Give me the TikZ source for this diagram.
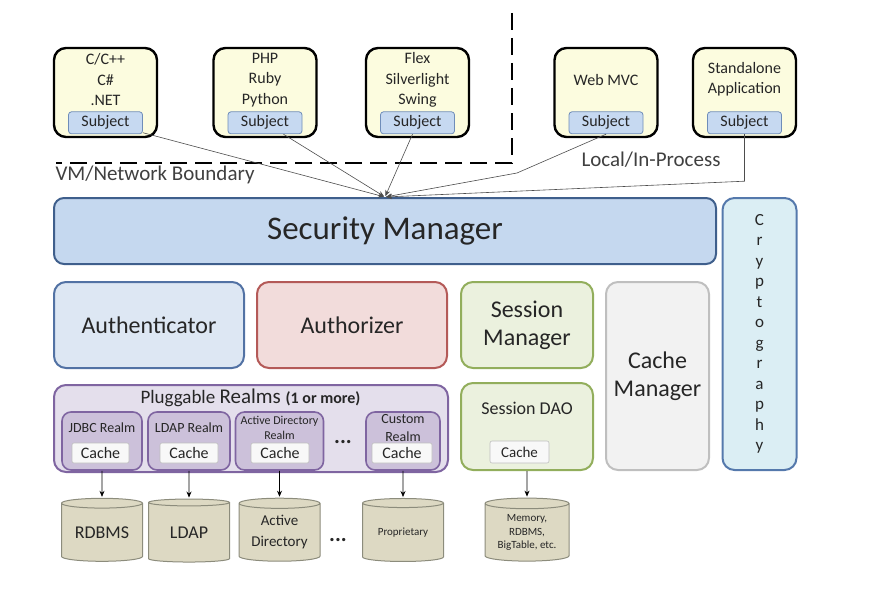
\documentclass[tikz,border=0pt]{standalone}
\usepackage{fontspec}
\setmainfont{Carlito}
\usetikzlibrary{arrows.meta,shapes,positioning}

\definecolor{ink}{HTML}{262626}
\definecolor{clientfill}{HTML}{FCFCDF}
\definecolor{subjfill}{HTML}{C6D9F1}
\definecolor{subjline}{HTML}{6F8DB9}
\definecolor{smfill}{HTML}{C5D8EF}
\definecolor{smline}{HTML}{3F5F8C}
\definecolor{authnfill}{HTML}{DDE7F3}
\definecolor{authnline}{HTML}{5272A4}
\definecolor{authzfill}{HTML}{F2DCDB}
\definecolor{authzline}{HTML}{B45A58}
\definecolor{sessfill}{HTML}{EBF1DE}
\definecolor{sessline}{HTML}{92AE5C}
\definecolor{cmfill}{HTML}{F2F2F2}
\definecolor{cmline}{HTML}{BFBFBF}
\definecolor{cryfill}{HTML}{DBEEF4}
\definecolor{cryline}{HTML}{5579AC}
\definecolor{plugfill}{HTML}{E4DFEC}
\definecolor{plugline}{HTML}{7F65A1}
\definecolor{realmfill}{HTML}{CCC1DA}
\definecolor{cachefill}{HTML}{F8F8F8}
\definecolor{cacheline}{HTML}{BFBFBF}
\definecolor{dbfill}{HTML}{DDD9C3}
\definecolor{dbline}{HTML}{8C8C7C}
\definecolor{linkcol}{HTML}{4D4D4D}

\begin{document}
\begin{tikzpicture}[x=1pt,y=-1pt,->,>={Stealth[length=6pt,width=5pt]},shorten >=1pt,
                    every node/.style={text=ink},
                    client/.style={draw=black,line width=2.4pt,fill=clientfill,rounded corners=12pt,
                                   minimum width=103pt,minimum height=89pt},
                    ctext/.style={align=center,font=\fontsize{16}{20.5}\selectfont},
                    subj/.style={draw=subjline,line width=0.8pt,fill=subjfill,rounded corners=3pt,
                                 minimum width=74pt,minimum height=22pt,inner sep=0pt,
                                 font=\fontsize{16}{18}\selectfont},
                    block/.style={rounded corners=12pt,line width=2pt,align=center,inner sep=0pt,
                                  font=\fontsize{24}{28}\selectfont},
                    realm/.style={draw=plugline,line width=1.6pt,fill=realmfill,rounded corners=9pt,
                                  minimum height=58pt},
                    cachebox/.style={draw=cacheline,line width=0.6pt,fill=cachefill,rounded corners=2pt,
                                     minimum height=20pt,inner sep=0pt,font=\fontsize{16}{18}\selectfont},
                    db/.style={cylinder,shape border rotate=90,aspect=0.18,draw=dbline,line width=1pt,
                               fill=dbfill,minimum width=81pt,minimum height=63pt,align=center,inner sep=0pt},
                    conn/.style={draw=linkcol,line width=0.6pt}]

  \useasboundingbox (0,0) rectangle (882,591);

  % clients
  \node [client] (cpp) at (105.5,92.5) {};
  \node [client] (php) at (265,92.5) {};
  \node [client] (flex) at (417.5,92.5) {};
  \node [client] (mvc) at (606,92.5) {};
  \node [client] (app) at (744.5,92.5) {};

  \node [ctext] (cppT) at (105.5,80) {C/C++\\C\#\\.NET};
  \node [ctext] (phpT) at (265,80) {PHP\\Ruby\\Python};
  \node [ctext] (flexT) at (417.5,80) {Flex\\Silverlight\\Swing};
  \node [ctext] (mvcT) at (606,80) {Web MVC};
  \node [ctext] (appT) at (744.5,79) {Standalone\\Application};

  \node [subj, above=4pt of cpp.south] (cppS) {Subject};
  \node [subj, above=4pt of php.south] (phpS) {Subject};
  \node [subj, above=4pt of flex.south] (flexS) {Subject};
  \node [subj, above=4pt of mvc.south] (mvcS) {Subject};
  \node [subj, above=4pt of app.south] (appS) {Subject};

  \draw [-,line width=2pt,dash pattern=on 17pt off 8pt] (512,13) -- (512,163) -- (55,163);
  \node [anchor=west,text=black!75,font=\fontsize{21}{24}\selectfont] (vmT) at (52,175) {VM/Network Boundary};
  \node [text=black!75,font=\fontsize{21}{24}\selectfont] (localT) at (651,160) {Local/In-Process};

  % core
  \node [block,draw=smline,fill=smfill,rounded corners=10pt,minimum width=662pt,minimum height=66pt,
         font=\fontsize{33}{36}\selectfont] (sm) at (385,231) {Security Manager};
  \node [block,draw=cryline,fill=cryfill,minimum width=74pt,minimum height=272pt,
         font=\fontsize{17}{20.5}\selectfont] (crypto) at (759.5,334) {C\\r\\y\\p\\t\\o\\g\\r\\a\\p\\h\\y};

  \node [block,draw=authnline,fill=authnfill,minimum width=190pt,minimum height=86pt] (authn) at (149,325) {Authenticator};
  \node [block,draw=authzline,fill=authzfill,minimum width=190pt,minimum height=86pt] (authz) at (352,325) {Authorizer};
  \node [block,draw=sessline,fill=sessfill,minimum width=132pt,minimum height=86pt] (sessmgr) at (527,325) {Session\\Manager};
  \node [block,draw=cmline,fill=cmfill,minimum width=103pt,minimum height=188pt] (cachemgr) at (657.5,376) {Cache\\Manager};

  \node [block,draw=sessline,fill=sessfill,minimum width=132pt,minimum height=87pt] (dao) at (527,426.5) {};
  \node [font=\fontsize{18}{20}\selectfont] (daoT) at (527,408) {Session DAO};
  \node [cachebox,minimum width=59pt,minimum height=22pt,font=\fontsize{15}{17}\selectfont] (daoC) at (519.5,452) {Cache};

  % realms
  \node [block,draw=plugline,fill=plugfill,minimum width=394pt,minimum height=87pt] (realms) at (251,428.5) {};
  \node (realmsT) at (250.5,398) {\fontsize{19}{22}\selectfont Pluggable \fontsize{21}{22}\selectfont Realms
    \fontsize{16}{20}\selectfont\bfseries (1 or more)};

  \node [realm,minimum width=80pt] (jdbc) at (102,441) {};
  \node [realm,minimum width=82pt] (ldap) at (189,441) {};
  \node [realm,minimum width=88pt] (ad) at (279.5,441) {};
  \node [realm,minimum width=74pt] (custom) at (403,441) {};

  \node [font=\fontsize{14}{16}\selectfont] (jdbcT) at (102,428) {JDBC Realm};
  \node [font=\fontsize{14}{16}\selectfont] (ldapT) at (189,428) {LDAP Realm};
  \node [align=center,font=\fontsize{12}{15}\selectfont] (adT) at (279.5,427.5) {Active Directory\\Realm};
  \node [align=center,font=\fontsize{14}{18}\selectfont] (customT) at (403,428) {Custom\\Realm};
  \node [font=\fontsize{22}{22}\selectfont\bfseries] (realmDots) at (343,442) {...};

  \node [cachebox,minimum width=57pt] (jdbcC) at (100.5,453) {Cache};
  \node [cachebox,minimum width=58pt] (ldapC) at (189,453) {Cache};
  \node [cachebox,minimum width=58pt] (adC) at (280,453) {Cache};
  \node [cachebox,minimum width=60pt] (customC) at (402,453) {Cache};

  % data stores
  \node [db,font=\fontsize{18}{21}\selectfont] (rdbms) at (102,532.5) {RDBMS};
  \node [db,font=\fontsize{18}{21}\selectfont] (ldapdb) at (189,532.5) {LDAP};
  \node [db,font=\fontsize{15}{21}\selectfont] (addb) at (279.5,532.5) {Active\\Directory};
  \node [font=\fontsize{22}{22}\selectfont\bfseries] (dbDots) at (338,540) {...};
  \node [db,font=\fontsize{11}{12}\selectfont] (prop) at (403,532.5) {Proprietary};
  \node [db,minimum width=84pt,font=\fontsize{11}{13.5}\selectfont] (mem) at (527,532.5) {Memory,\\RDBMS,\\BigTable, etc.};

  % subjects to security manager
  \coordinate (mvcbend) at (517,173);
  \path (cppS) edge [conn] (sm.north)
        (phpS) edge [conn] (sm.north)
        (flexS) edge [conn] (sm.north);
  \draw [conn] (mvcS.south) -- (mvcbend) -- (sm.north);
  \draw [conn] (appS.south) -- ++(0,47) -- (sm.north);

  \path (jdbc) edge [line width=0.7pt] (rdbms)
        (ldap) edge [line width=0.7pt] (ldapdb)
        (ad) edge [line width=0.7pt] (addb)
        (custom) edge [line width=0.7pt] (prop)
        (dao) edge [line width=0.7pt] (mem);

\end{tikzpicture}
\end{document}
